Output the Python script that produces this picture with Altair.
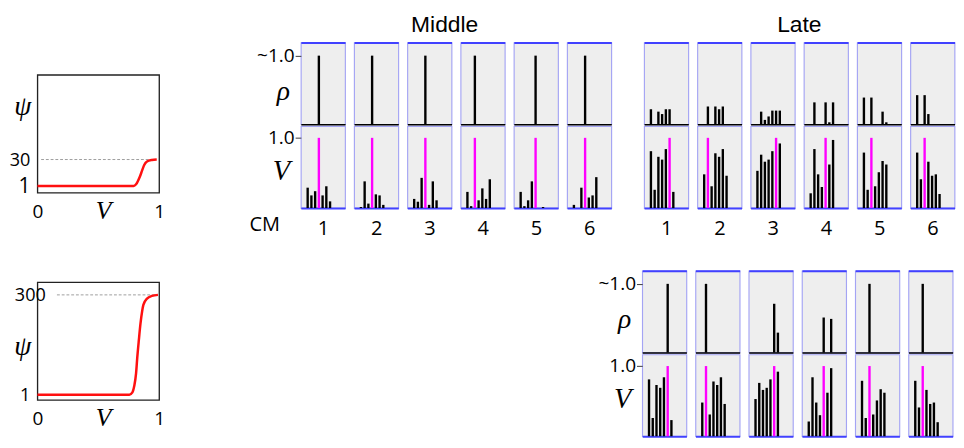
import altair as alt
import pandas as pd

SANS = "Open Sans"
TITLE_FONT = "Liberation Sans"
SERIF = "Liberation Serif"

# ---------------- data ----------------
# psi(V) curves (left panels)
PSI_LOW_V = [0.0, 0.5, 0.79, 0.81, 0.84, 0.86, 0.877, 0.90, 0.94, 0.98]
PSI_LOW_VAL = [1, 1, 1, 2.8, 10.7, 18, 24, 27.8, 29.5, 30]
PSI_LOW_TICKS = [1, 30]
PSI_LOW_DASH_V = [0.03, 0.97]
PSI_LOW_DASH_VAL = [30, 30]

PSI_HIGH_V = [0.0, 0.5, 0.755, 0.78, 0.795, 0.81, 0.82, 0.833, 0.846, 0.86, 0.87, 0.90, 0.94, 0.99]
PSI_HIGH_VAL = [1, 1, 1, 8, 27, 65, 113, 165, 213, 251, 270, 289, 297, 300]
PSI_HIGH_TICKS = [1, 300]
PSI_HIGH_DASH_V = [0.16, 0.98]
PSI_HIGH_DASH_VAL = [300, 300]

CMS = [1, 2, 3, 4, 5, 6]
POS = [0, 1, 2, 3, 4, 5, 6]
CM_LABEL = "CM"
TITLE_MIDDLE = "Middle"
TITLE_LATE = "Late"

MIDDLE_RHO = [
    [0, 0, 0, 1.0, 0, 0, 0],
    [0, 0, 0, 1.0, 0, 0, 0],
    [0, 0, 0, 1.0, 0, 0, 0],
    [0, 0, 1.0, 0, 0, 0, 0],
    [0, 0, 0, 0, 1.0, 0, 0],
    [0, 0, 0, 1.0, 0, 0, 0],
]
MIDDLE_V = [
    [0.29, 0.18, 0.24, 1.0, 0.18, 0.31, 0.095],
    [0.015, 0.38, 0.063, 1.0, 0.195, 0.18, 0.045],
    [0.13, 0.09, 0.43, 1.0, 0.045, 0.38, 0.11],
    [0.23, 0.027, 1.0, 0.11, 0.28, 0.13, 0.41],
    [0.23, 0.027, 0.11, 0.38, 1.0, 0.0, 0.015],
    [0.045, 0.0, 0.29, 1.0, 0.15, 0.18, 0.44],
]
MIDDLE_PEAK = [3, 3, 3, 2, 4, 3]

LATE_V = [
    [0.81, 0.26, 0.73, 0.69, 0.84, 1.0, 0.23],
    [0.48, 1.0, 0.31, 0.78, 0.73, 0.84, 0.46],
    [0.53, 0.76, 0.66, 0.69, 0.81, 1.0, 0.92],
    [0.21, 0.84, 0.48, 0.30, 1.0, 0.62, 0.97],
    [0.79, 0.26, 1.0, 0.31, 0.51, 0.67, 0.62],
    [0.79, 0.41, 1.0, 0.66, 0.46, 0.48, 0.20],
]
LATE_PEAK = [5, 1, 5, 4, 2, 2]
LATE_RHO_A = [
    [0.22, 0, 0.185, 0.15, 0.22, 0.22, 0],
    [0, 0.26, 0, 0.26, 0.22, 0.26, 0],
    [0, 0.185, 0.065, 0.115, 0.2, 0.2, 0.2],
    [0, 0.32, 0, 0, 0.32, 0.03, 0.32],
    [0.39, 0, 0.39, 0, 0, 0.185, 0.03],
    [0.425, 0, 0.425, 0.15, 0, 0, 0],
]
LATE_RHO_B = [
    [0, 0, 0, 0, 0, 1.0, 0],
    [0, 1.0, 0, 0, 0, 0, 0],
    [0, 0, 0, 0, 0, 0.71, 0.29],
    [0, 0, 0, 0, 0.51, 0, 0.49],
    [0, 0, 1.0, 0, 0, 0, 0],
    [0, 0, 1.0, 0, 0, 0, 0],
]

rows = []
for grp, rho, vv, peaks in [("mid", MIDDLE_RHO, MIDDLE_V, MIDDLE_PEAK),
                            ("lateA", LATE_RHO_A, LATE_V, LATE_PEAK),
                            ("lateB", LATE_RHO_B, LATE_V, LATE_PEAK)]:
    for k, cm in enumerate(CMS):
        for i, p in enumerate(POS):
            rows.append(dict(grp=grp, cm=cm, row="rho", pos=p, value=rho[k][i], kind="other"))
            rows.append(dict(grp=grp, cm=cm, row="V", pos=p, value=vv[k][i],
                             kind="peak" if i == peaks[k] else "other"))
DF = pd.DataFrame(rows)

# ---------------- styling ----------------
BLUE = "#4141ff"
LIGHT = "#a4a4f4"
FILL = "#eeeeee"
PW, PH = 46.5, 86
PSI_W, PSI_H = 128, 124
BAR = 2.5


def spacer():
    return alt.Chart(pd.DataFrame({"a": [0]})).mark_point(opacity=0).properties(
        width=1, height=1, view=alt.ViewBackground(stroke="transparent", fill="transparent"))


def psi_chart(vs, vals, dom, ticks, dv, dval, psi_base, center_top, big_one):
    d_line = pd.DataFrame({"V": vs, "psi": vals})
    d_dash = pd.DataFrame({"V": dv, "psi": dval})
    if center_top:
        lab_align = alt.condition(f"datum.value == {ticks[1]}", alt.value("center"), alt.value("right"))
    else:
        lab_align = "right"
    if big_one:
        lab_size = alt.condition("datum.value == 1", alt.value(22), alt.value(19))
    else:
        lab_size = 19
    x = alt.X("V:Q", scale=alt.Scale(domain=[0, 1], nice=False, zero=False),
              axis=alt.Axis(values=[0, 1], format="d", labelFontSize=20, labelFont=SANS,
                            labelColor="black", labelPadding=10, labelFlush=False,
                            labelOverlap=False, ticks=False, domain=False, grid=False, title="V",
                            titleFont=SERIF, titleFontStyle="italic", titleFontWeight="normal",
                            titleFontSize=27, titleX=69, titleY=27, titleBaseline="alphabetic",
                            titleAlign="center"))
    y = alt.Y("psi:Q", scale=alt.Scale(domain=dom, nice=False, zero=False),
              axis=alt.Axis(values=ticks, format="d", labelFontSize=lab_size, labelFont=SANS,
                            labelColor="black", labelPadding=8, labelAlign=lab_align,
                            labelOverlap=False, ticks=False, domain=False, grid=False, title="ψ",
                            titleAngle=0, titleFont=SERIF, titleFontStyle="italic",
                            titleFontWeight="normal", titleFontSize=29, titleX=-16, titleY=psi_base,
                            titleBaseline="alphabetic", titleAlign="center"))
    dash = alt.Chart(d_dash).mark_line(color="#9a9a9a", strokeWidth=1, strokeDash=[3, 2]).encode(x=x, y=y)
    line = alt.Chart(d_line).mark_line(color="#ff1010", strokeWidth=2.6, interpolate="monotone").encode(x=x, y=y)
    return alt.layer(dash, line).properties(
        width=PSI_W, height=PSI_H,
        view=alt.ViewBackground(fill="white", stroke="#222222", strokeWidth=1.4))


def xscale():
    return alt.Scale(domain=[-0.55, 8.75], nice=False, zero=False)


def panel(grp, k, first, show_num, show_cm):
    cm = CMS[k]
    flt = f"datum.grp == '{grp}' && datum.cm == {cm}"
    view = alt.ViewBackground(fill=FILL, stroke=LIGHT, strokeWidth=1.2)

    # rho row
    if first:
        r_axis = alt.Axis(values=[1.0], labelExpr="'~1.0'", labelFontSize=20, labelFont=SANS,
                          labelColor="black", labelPadding=1, tickSize=6, tickColor="#333333",
                          domain=False, grid=False, title="ρ", titleAngle=0, titleFont=SERIF,
                          titleFontStyle="italic", titleFontWeight="normal", titleFontSize=29,
                          titleX=-19, titleY=60, titleAlign="center", titleBaseline="alphabetic")
        ry = alt.Y("value:Q", scale=alt.Scale(domain=[0, 1.19], nice=False), axis=r_axis)
    else:
        ry = alt.Y("value:Q", scale=alt.Scale(domain=[0, 1.19], nice=False), axis=None)
    rbase = alt.Chart(DF).transform_filter(flt + " && datum.row == 'rho'")
    rbars = rbase.mark_bar(size=BAR, color="black").encode(
        x=alt.X("pos:Q", scale=xscale(),
                axis=alt.Axis(orient="bottom", labels=False, ticks=False, grid=False,
                              domainColor="black", domainWidth=1.6, title=None)),
        y=ry)
    rtop = rbase.mark_rule(opacity=0).encode(
        x=alt.X("pos:Q", scale=xscale(),
                axis=alt.Axis(orient="top", labels=False, ticks=False, grid=False,
                              domainColor=BLUE, domainWidth=2, title=None)))
    rho = alt.layer(rbars, rtop).resolve_axis(x="independent").properties(width=PW, height=PH, view=view)

    # V row
    if first:
        v_axis = alt.Axis(values=[1.0], labelExpr="'1.0'", labelFontSize=20, labelFont=SANS,
                          labelColor="black", labelPadding=1, tickSize=6, tickColor="#333333",
                          domain=False, grid=False, title="V", titleAngle=0, titleFont=SERIF,
                          titleFontStyle="italic", titleFontWeight="normal", titleFontSize=30,
                          titleX=-21, titleY=56, titleAlign="center", titleBaseline="alphabetic")
        vy = alt.Y("value:Q", scale=alt.Scale(domain=[0, 1.165], nice=False), axis=v_axis)
    else:
        vy = alt.Y("value:Q", scale=alt.Scale(domain=[0, 1.165], nice=False), axis=None)
    if show_num:
        vx_axis = alt.Axis(orient="bottom", labels=False, ticks=False, grid=False, domainColor=BLUE,
                           domainWidth=2, title=str(cm), titleFont=SANS, titleFontSize=21,
                           titleFontWeight="normal", titleColor="black", titlePadding=11)
    else:
        vx_axis = alt.Axis(orient="bottom", labels=False, ticks=False, grid=False, domainColor=BLUE,
                           domainWidth=2, title=None)
    vbase = alt.Chart(DF).transform_filter(flt + " && datum.row == 'V'")
    vbars = vbase.mark_bar(size=BAR).encode(
        x=alt.X("pos:Q", scale=xscale(), axis=vx_axis),
        y=vy,
        color=alt.Color("kind:N", scale=alt.Scale(domain=["peak", "other"], range=["#ff00ff", "#000000"]),
                        legend=None))
    layers = [vbars]
    if show_cm:
        layers.append(alt.Chart(pd.DataFrame({"t": [CM_LABEL]})).mark_text(
            font=SANS, fontSize=21, color="black", align="center", baseline="middle").encode(
            text="t:N", x=alt.value(-38), y=alt.value(PH + 18)))
    vch = alt.layer(*layers).properties(width=PW, height=PH, view=view)
    return alt.vconcat(rho, vch, spacing=0)


def group(grp, axis_first, show_num, show_cm, title=None, title_dx=0):
    panels = [panel(grp, k, axis_first and k == 0, show_num, show_cm and k == 0) for k in range(6)]
    if title is None:
        return alt.hconcat(*panels, spacing=7)
    t = alt.TitleParams(title, font=TITLE_FONT, fontSize=24, fontWeight="normal", color="black",
                        anchor="middle", baseline="alphabetic", offset=-13, dx=title_dx)
    return alt.hconcat(*panels, spacing=7, title=t)


psi1 = psi_chart(PSI_LOW_V, PSI_LOW_VAL, [-6.6, 123], PSI_LOW_TICKS, PSI_LOW_DASH_V,
                 PSI_LOW_DASH_VAL, 42, False, True)
psi2 = psi_chart(PSI_HIGH_V, PSI_HIGH_VAL, [-15, 338], PSI_HIGH_TICKS, PSI_HIGH_DASH_V,
                 PSI_HIGH_DASH_VAL, 76, True, False)

middle = group("mid", True, True, True, TITLE_MIDDLE, 15)
late_a = group("lateA", False, True, False, TITLE_LATE, 0)
late_b = group("lateB", True, False, False)

left_top = alt.vconcat(spacer(), psi1, spacing=29)
left_bottom = alt.vconcat(spacer(), psi2, spacing=7)

top_row = alt.hconcat(left_top, alt.hconcat(middle, late_a, spacing=32), spacing=87)
bottom_row = alt.hconcat(left_bottom, late_b, spacing=453)

chart = alt.vconcat(top_row, bottom_row, spacing=30).properties(
    padding={"left": 0, "top": -6, "right": 0, "bottom": 0}
).configure(background="white")

chart.save("out.html", embed_options={"renderer": "svg", "actions": False})
